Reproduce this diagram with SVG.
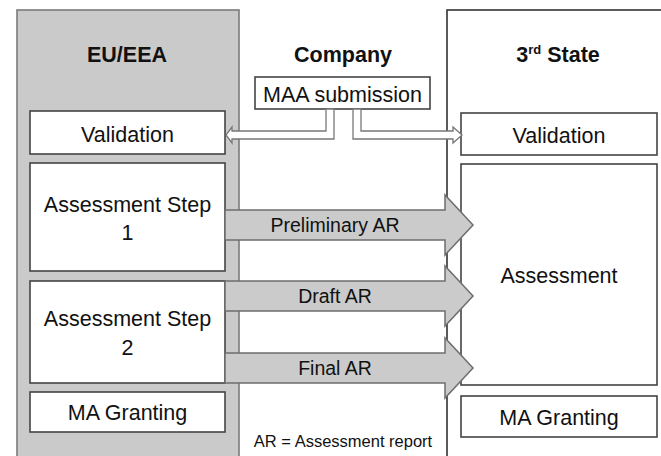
<svg xmlns="http://www.w3.org/2000/svg" width="661" height="456" viewBox="0 0 661 456">
  <style>
    text { font-family: "Liberation Sans", Arial, sans-serif; fill: #111; text-anchor: middle; }
    .title { font-size: 21.5px; font-weight: bold; }
    .lbl { font-size: 21.5px; }
    .arlbl { font-size: 19.5px; }
    .note { font-size: 16.5px; }
    .box { fill: #fff; stroke: #444; stroke-width: 1.6; }
    .col-eu { fill: #cacaca; stroke: #7a7a7a; stroke-width: 1.6; }
    .col-3rd { fill: #fff; stroke: #333; stroke-width: 1.6; }
    .hollow { fill: #fff; stroke: #777; stroke-width: 1.3; stroke-linejoin: miter; }
    .block { fill: #cbcbcb; stroke: #6e6e6e; stroke-width: 1.5; stroke-linejoin: miter; }
  </style>

  <!-- column backgrounds -->
  <g id="col-eu">
    <rect class="col-eu" x="17" y="10" width="222" height="460"/>
    <text class="title" x="127" y="62">EU/EEA</text>
  </g>
  <g id="col-company">
    <text class="title" x="343" y="62">Company</text>
  </g>
  <g id="col-third">
    <rect class="col-3rd" x="447" y="10" width="230" height="460"/>
    <text class="title" x="558" y="62" text-anchor="middle">3<tspan font-size="13" dy="-8">rd</tspan><tspan dy="8"> State</tspan></text>
  </g>

  <!-- company node -->
  <g id="maa-submission">
    <rect class="box" x="255" y="77" width="175" height="32"/>
    <text class="lbl" x="342.5" y="101.5">MAA submission</text>
  </g>

  <!-- EU/EEA nodes -->
  <g id="eu-validation">
    <rect class="box" x="30" y="111" width="195" height="43"/>
    <text class="lbl" x="127.5" y="141.5">Validation</text>
  </g>
  <g id="eu-step1">
    <rect class="box" x="30" y="163" width="195" height="108"/>
    <text class="lbl" x="127.5" y="211.5">Assessment Step</text>
    <text class="lbl" x="127.5" y="240">1</text>
  </g>
  <g id="eu-step2">
    <rect class="box" x="30" y="281" width="195" height="102"/>
    <text class="lbl" x="127.5" y="326">Assessment Step</text>
    <text class="lbl" x="127.5" y="355">2</text>
  </g>
  <g id="eu-granting">
    <rect class="box" x="30" y="392" width="195" height="40"/>
    <text class="lbl" x="127.5" y="420">MA Granting</text>
  </g>

  <!-- 3rd State nodes -->
  <g id="third-validation">
    <rect class="box" x="461" y="113" width="196" height="42"/>
    <text class="lbl" x="559" y="143">Validation</text>
  </g>
  <g id="third-assessment">
    <rect class="box" x="461" y="164" width="196" height="221"/>
    <text class="lbl" x="559" y="283">Assessment</text>
  </g>
  <g id="third-granting">
    <rect class="box" x="461" y="396" width="196" height="41"/>
    <text class="lbl" x="559" y="425">MA Granting</text>
  </g>

  <!-- connectors -->
  <g id="connectors">
    <!-- submission to both validations (hollow elbow arrows) -->
    <path class="hollow" d="M326,109 V131 H232 V127 L226,135 L232,143 V139 H334 V109 Z"/>
    <path class="hollow" d="M361,109 V131 H453 V127 L462,135 L453,143 V139 H353 V109 Z"/>

    <!-- report transfer block arrows -->
    <g id="arrow-preliminary">
      <path class="block" d="M225,210 H445 V195 L473,225 L445,255 V240 H225 Z"/>
      <text class="arlbl" x="335" y="232">Preliminary AR</text>
    </g>
    <g id="arrow-draft">
      <path class="block" d="M225,281 H445 V266 L473,296 L445,326 V311 H225 Z"/>
      <text class="arlbl" x="335" y="303">Draft AR</text>
    </g>
    <g id="arrow-final">
      <path class="block" d="M225,353 H445 V338 L473,368 L445,398 V383 H225 Z"/>
      <text class="arlbl" x="335" y="375">Final AR</text>
    </g>
  </g>

  <text class="note" x="343" y="447">AR = Assessment report</text>
</svg>
